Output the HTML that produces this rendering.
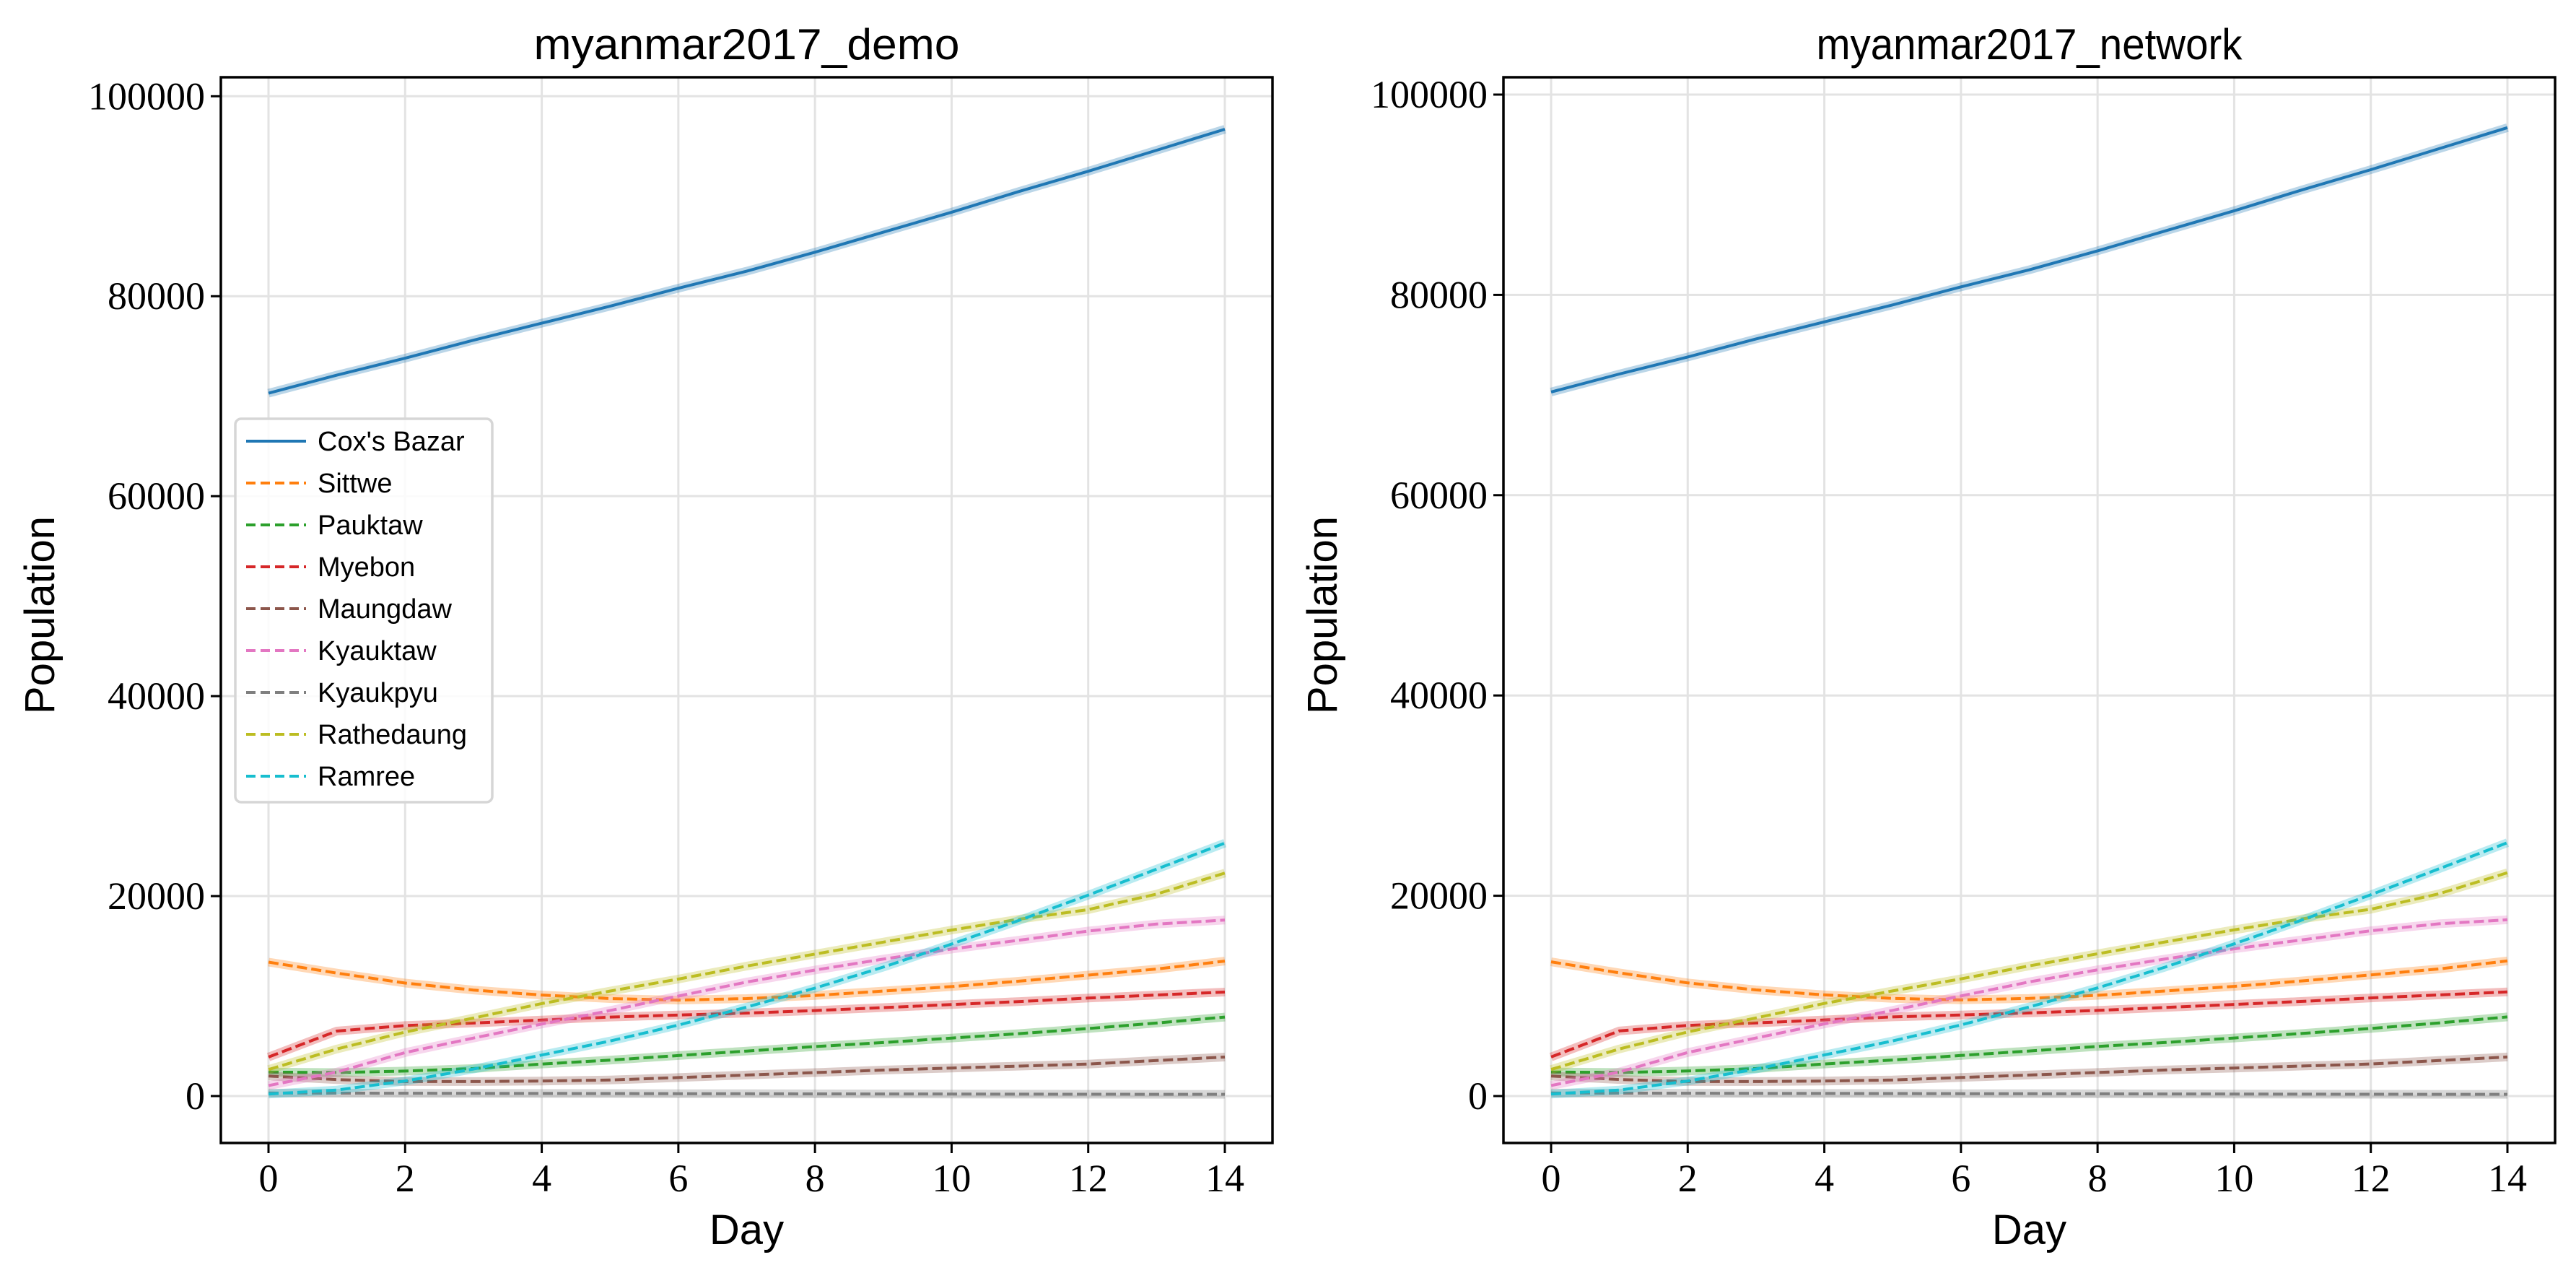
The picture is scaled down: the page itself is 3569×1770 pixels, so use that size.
<!DOCTYPE html>
<html><head><meta charset="utf-8">
<style>
html,body{margin:0;padding:0;background:#fff;}
svg{display:block;}
</style></head>
<body>
<svg id="fig" xmlns="http://www.w3.org/2000/svg" width="3569" height="1770" viewBox="0 0 3569 1770">
<rect width="3569" height="1770" fill="#fff"/>
</svg>
<script>
const days = [0,1,2,3,4,5,6,7,8,9,10,11,12,13,14];
const seriesNames = ["Cox's Bazar","Sittwe","Pauktaw","Myebon","Maungdaw","Kyauktaw","Kyaukpyu","Rathedaung","Ramree"];
const coxsBazar = [70300,72100,73800,75600,77300,79000,80800,82500,84400,86400,88400,90500,92500,94600,96700];
const sittwe = [13400,12300,11300,10600,10100,9750,9600,9750,10060,10500,10950,11500,12100,12700,13500];
const pauktaw = [2400,2350,2500,2750,3200,3600,4050,4500,4950,5350,5800,6250,6750,7300,7900];
const myebon = [3900,6500,7050,7300,7600,7900,8100,8300,8550,8850,9150,9450,9800,10100,10400];
const maungdaw = [2000,1650,1450,1450,1500,1600,1850,2100,2350,2600,2800,3000,3200,3550,3900];
const kyauktaw = [1050,2400,4350,5800,7200,8550,10000,11400,12600,13700,14700,15600,16500,17200,17600];
const kyaukpyu = [300,290,280,270,260,250,240,230,220,210,200,190,180,170,170];
const rathedaung = [2650,4700,6400,7800,9250,10500,11700,13000,14200,15400,16600,17700,18650,20200,22300];
const ramree = [200,600,1500,2700,4100,5500,7100,8900,10800,12900,15200,17600,20100,22700,25300];
const yTicks = [0,20000,40000,60000,80000,100000];
const yTickLabels = ["0","20000","40000","60000","80000","100000"];
const xTicks = [0,2,4,6,8,10,12,14];
const xTickLabels = ["0","2","4","6","8","10","12","14"];
const panelTitles = ["myanmar2017_demo","myanmar2017_network"];

const allSeries = [coxsBazar,sittwe,pauktaw,myebon,maungdaw,kyauktaw,kyaukpyu,rathedaung,ramree];
const colors = ["#1f77b4","#ff7f0e","#2ca02c","#d62728","#8c564b","#e377c2","#7f7f7f","#bcbd22","#17becf"];
const NS = "http://www.w3.org/2000/svg";
const svg = document.getElementById('fig');
function mk(tag, attrs, parent){const e=document.createElementNS(NS,tag);for(const k in attrs)e.setAttribute(k,attrs[k]);(parent||svg).appendChild(e);return e;}

const panels = [
 {x0:306,x1:1763,y0:107,y1:1583,d0:372,d14:1697,v0:1518,v100:133.3,key:'demo'},
 {x0:2083,x1:3540,y0:107,y1:1583,d0:2149,d14:3474,v0:1518,v100:131,key:'network'}
];

panels.forEach((p,pi)=>{
  const g = mk('g',{});
  
  
  const xs = d => p.d0 + (p.d14-p.d0)*d/14;
  const ys = v => p.v0 + (p.v100-p.v0)*v/100000;
  xTicks.forEach((t,i)=>{
    const l = mk('line',{x1:xs(t),x2:xs(t),y1:p.y0,y2:p.y1,stroke:'#e3e3e3','stroke-width':3},g);
    
    
  });
  yTicks.forEach((t,i)=>{
    const l = mk('line',{x1:p.x0,x2:p.x1,y1:ys(t),y2:ys(t),stroke:'#e3e3e3','stroke-width':3},g);
    
    
  });
  allSeries.forEach((vals,si)=>{
    const pts = days.map((d,i)=>xs(d).toFixed(1)+','+ys(vals[i]).toFixed(1)).join(' ');
    const band = mk('polyline',{points:pts,fill:'none',stroke:colors[si],'stroke-width':12,'stroke-opacity':0.3,'stroke-linejoin':'round'},g);
    
    
    const ln = mk('polyline',{points:pts,fill:'none',stroke:colors[si],'stroke-width':4,'stroke-linejoin':'round'},g);
    if(si>0) ln.setAttribute('stroke-dasharray','14 6');
    
    
  });
  const fr = mk('rect',{x:p.x0,y:p.y0,width:p.x1-p.x0,height:p.y1-p.y0,fill:'none',stroke:'#000','stroke-width':3.5},g);
  
  
  xTicks.forEach((t,i)=>{
    mk('line',{x1:xs(t),x2:xs(t),y1:p.y1,y2:p.y1+14,stroke:'#000','stroke-width':3},g);
    const tx = mk('text',{x:xs(t),y:p.y1+67,'text-anchor':'middle','font-family':'"Liberation Serif",serif','font-size':54},g);
    tx.textContent = xTickLabels[i];
    
    
  });
  yTicks.forEach((t,i)=>{
    mk('line',{x1:p.x0-14,x2:p.x0,y1:ys(t),y2:ys(t),stroke:'#000','stroke-width':3},g);
    const tx = mk('text',{x:p.x0-22,y:ys(t)+18,'text-anchor':'end','font-family':'"Liberation Serif",serif','font-size':54},g);
    tx.textContent = yTickLabels[i];
    
    
  });
  const cx = (p.x0+p.x1)/2;
  const title = mk('text',{x:cx,y:82,'text-anchor':'middle','font-family':'"Liberation Sans",sans-serif','font-size':60,textLength:590,lengthAdjust:'spacingAndGlyphs'},g);
  title.textContent = panelTitles[pi];
  
  
  const xl = mk('text',{x:cx,y:1723,'text-anchor':'middle','font-family':'"Liberation Sans",sans-serif','font-size':58},g);
  xl.textContent = 'Day';
  
  
  const yl = mk('text',{x:0,y:0,'text-anchor':'middle','font-family':'"Liberation Sans",sans-serif','font-size':58,transform:'translate('+(p.x0-231)+',852) rotate(-90)'},g);
  yl.textContent = 'Population';
  
  
});

const lg = mk('g',{});


mk('rect',{x:326,y:580,width:356,height:531,rx:8,fill:'#fff','fill-opacity':0.85,stroke:'#d6d6d6','stroke-width':3.5},lg);
seriesNames.forEach((n,i)=>{
  const y = 611 + i*58;
  const e = mk('g',{},lg);
  
  
  const l = mk('line',{x1:341,x2:424,y1:y,y2:y,stroke:colors[i],'stroke-width':4},e);
  if(i>0) l.setAttribute('stroke-dasharray','13 7');
  const t = mk('text',{x:440,y:y+13,'font-family':'"Liberation Sans",sans-serif','font-size':38},e);
  t.textContent = n;
});
</script>
</body></html>
